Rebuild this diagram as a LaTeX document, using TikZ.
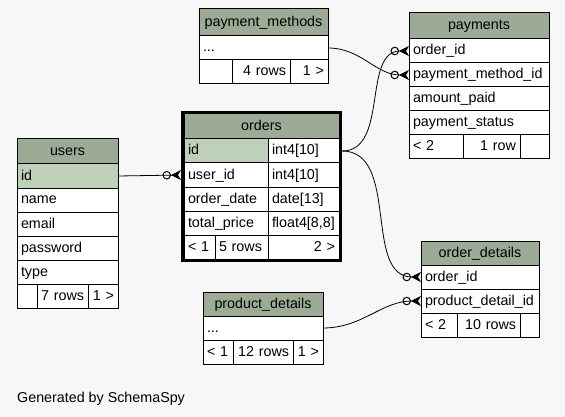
\documentclass[tikz,border=0pt]{standalone}
\usepackage{fontspec}
\setmainfont{Liberation Sans}
\usepackage{tikz}
\usetikzlibrary{positioning,arrows.meta,fit}

\definecolor{headcol}{HTML}{9BAB96}
\definecolor{keycol}{HTML}{BED1B8}
\definecolor{bgcol}{HTML}{F7F7F7}

\newcommand{\tblfont}{\fontsize{14.3}{16}\selectfont}
\hyphenpenalty=10000

\tikzset{
  cell/.style={draw, fill=white, line width=1pt, outer sep=0pt, inner ysep=0pt, inner xsep=4pt,
    minimum height=24pt, text height=11pt, text depth=3pt, font=\tblfont, align=left},
  wd/.code={\pgfmathsetlengthmacro\cellw{#1pt-8pt}\pgfkeysalso{minimum width=#1pt,text width/.expanded=\cellw}},
  hd/.style={cell, fill=headcol, align=center},
  pkcell/.style={cell, fill=keycol},
  fr/.style={cell, align=right},
  many/.style={-{Circle[open,length=8.5pt,width=8.5pt,line width=1pt]Stealth[reversed,length=10pt,width=10pt,inset=3pt]}, line width=0.8pt}
}

\begin{document}
\begin{tikzpicture}[x=1pt,y=-1pt]
    \fill[bgcol] (0,0) rectangle (565,417);

    % users
    \node[hd, wd=101, minimum height=25pt, anchor=north west] (users-h) at (17,139) {users};
    \node[pkcell, wd=101, below=0pt of users-h] (users-id) {id};
    \node[cell, wd=101, below=0pt of users-id] (users-name) {name};
    \node[cell, wd=101, below=0pt of users-name] (users-email) {email};
    \node[cell, wd=101, below=0pt of users-email] (users-pw) {password};
    \node[cell, wd=101, below=0pt of users-pw] (users-type) {type};
    \node[cell, wd=20, below right=0pt of users-type.south west] (users-f1) {};
    \node[fr, wd=51, right=0pt of users-f1] (users-f2) {7 rows};
    \node[fr, wd=30, right=0pt of users-f2] (users-f3) {1 >};

    % orders
    \node[hd, wd=155, minimum height=25pt, anchor=north west] (orders-h) at (184,114) {orders};
    \node[pkcell, wd=84, below right=0pt of orders-h.south west] (orders-id) {id};
    \node[cell, wd=71, right=0pt of orders-id] (orders-idt) {int4[10]};
    \node[cell, wd=84, below=0pt of orders-id] (orders-uid) {user\_id};
    \node[cell, wd=71, right=0pt of orders-uid] (orders-uidt) {int4[10]};
    \node[cell, wd=84, below=0pt of orders-uid] (orders-od) {order\_date};
    \node[cell, wd=71, right=0pt of orders-od] (orders-odt) {date[13]};
    \node[cell, wd=84, below=0pt of orders-od] (orders-tp) {total\_price};
    \node[cell, wd=71, right=0pt of orders-tp] (orders-tpt) {float4[8,8]};
    \node[cell, wd=31, below right=0pt of orders-tp.south west] (orders-f1) {< 1};
    \node[cell, wd=53, right=0pt of orders-f1] (orders-f2) {5 rows};
    \node[fr, wd=71, right=0pt of orders-f2] (orders-f3) {2 >};
    \node[fit=(orders-h)(orders-f3), draw, line width=3pt, inner sep=1.5pt] (orders) {};

    % payments
    \node[hd, wd=140, minimum height=26pt, anchor=north west] (pay-h) at (409,13) {payments};
    \node[cell, wd=140, below=0pt of pay-h] (pay-oid) {order\_id};
    \node[cell, wd=140, below=0pt of pay-oid] (pay-pmid) {payment\_method\_id};
    \node[cell, wd=140, below=0pt of pay-pmid] (pay-amt) {amount\_paid};
    \node[cell, wd=140, below=0pt of pay-amt] (pay-st) {payment\_status};
    \node[cell, wd=54, below right=0pt of pay-st.south west] (pay-f1) {< 2};
    \node[fr, wd=57, right=0pt of pay-f1] (pay-f2) {1 row};
    \node[cell, wd=29, right=0pt of pay-f2] (pay-f3) {};

    % payment_methods
    \node[hd, wd=129, minimum height=27pt, anchor=north west] (pm-h) at (199,9) {payment\_methods};
    \node[cell, wd=129, below=0pt of pm-h] (pm-row) {...};
    \node[cell, wd=33, below right=0pt of pm-row.south west] (pm-f1) {};
    \node[fr, wd=58, right=0pt of pm-f1] (pm-f2) {4 rows};
    \node[fr, wd=38, right=0pt of pm-f2] (pm-f3) {1 >};

    % order_details
    \node[hd, wd=118, anchor=north west] (od-h) at (421,241) {order\_details};
    \node[cell, wd=118, below=0pt of od-h] (od-oid) {order\_id};
    \node[cell, wd=118, below=0pt of od-oid] (od-pdid) {product\_detail\_id};
    \node[cell, wd=36, below right=0pt of od-pdid.south west] (od-f1) {< 2};
    \node[fr, wd=63, right=0pt of od-f1] (od-f2) {10 rows};
    \node[cell, wd=19, right=0pt of od-f2] (od-f3) {};

    % product_details
    \node[hd, wd=120, anchor=north west] (pd-h) at (203,292) {product\_details};
    \node[cell, wd=120, below=0pt of pd-h] (pd-row) {...};
    \node[cell, wd=30, below right=0pt of pd-row.south west] (pd-f1) {< 1};
    \node[fr, wd=60, right=0pt of pd-f1] (pd-f2) {12 rows};
    \node[fr, wd=30, right=0pt of pd-f2] (pd-f3) {1 >};

    % relations
    \draw[many] (users-id.east) -- (orders-uid -| orders.west);
    \draw[many] (orders-id -| orders.east) to[out=0,in=180] (pay-oid.west);
    \draw[many] (orders-id -| orders.east) to[out=0,in=180] (od-oid.west);
    \draw[many] (pm-row.east) to[out=0,in=180] (pay-pmid.west);
    \draw[many] (pd-row.east) to[out=0,in=180] (od-pdid.west);

    \node[font=\tblfont, anchor=base west, inner sep=0pt] (gen) at (17,402) {Generated by SchemaSpy};
\end{tikzpicture}
\end{document}
